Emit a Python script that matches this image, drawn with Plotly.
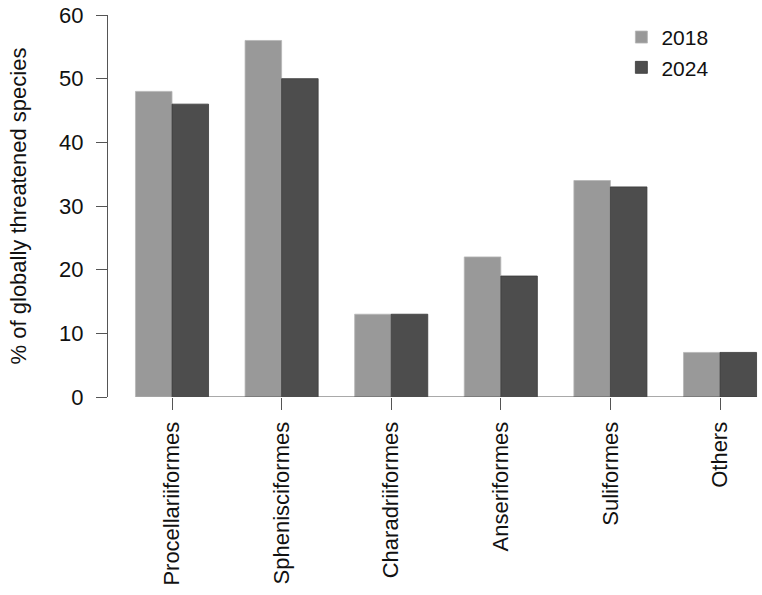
import plotly.graph_objects as go

categories = ["Procellariiformes", "Sphenisciformes", "Charadriiformes",
              "Anseriformes", "Suliformes", "Others"]
values_2018 = [48, 56, 13, 22, 34, 7]
values_2024 = [46, 50, 13, 19, 33, 7]
y_ticks = [0, 10, 20, 30, 40, 50, 60]

FONT = "Liberation Sans, Arial, sans-serif"
AXIS_COLOR = "#555555"

fig = go.Figure()
fig.add_trace(go.Bar(x=categories, y=values_2018, name="2018",
                     marker=dict(color="#999999", line=dict(color="#b5b5b5", width=0.8))))
fig.add_trace(go.Bar(x=categories, y=values_2024, name="2024",
                     marker=dict(color="#4d4d4d", line=dict(color="#3a3a3a", width=0.8))))

# R-style x-axis line, spanning first to last tick only
fig.add_shape(type="line", xref="x", yref="y", x0=0, x1=len(categories) - 1,
              y0=0, y1=0, line=dict(color=AXIS_COLOR, width=1.2))

fig.update_layout(
    width=762, height=595,
    margin=dict(l=108, r=0, t=15, b=198),
    paper_bgcolor="white", plot_bgcolor="white",
    barmode="group", bargap=1/3, bargroupgap=0,
    font=dict(family=FONT, size=22, color="#111111"),
    showlegend=True,
    legend=dict(x=0.785, y=0.995, xanchor="left", yanchor="top",
                font=dict(size=21), bgcolor="rgba(0,0,0,0)",
                tracegroupgap=0, itemwidth=30),
    xaxis=dict(range=[-0.584, 5.383], showline=False, showgrid=False,
               ticks="outside", ticklen=12, tickcolor=AXIS_COLOR, tickwidth=1.2,
               tickangle=-90, tickfont=dict(size=22), zeroline=False,
               ticklabelstandoff=3),
    yaxis=dict(range=[0, 60], tickvals=y_ticks, showline=True, linecolor=AXIS_COLOR,
               linewidth=1.2, showgrid=False, zeroline=False,
               ticks="outside", ticklen=11, tickcolor=AXIS_COLOR, tickwidth=1.2,
               tickfont=dict(size=22), ticklabelstandoff=8,
               title=dict(text="% of globally threatened species", font=dict(size=22),
                          standoff=26)),
)

fig.write_html("out.html")
